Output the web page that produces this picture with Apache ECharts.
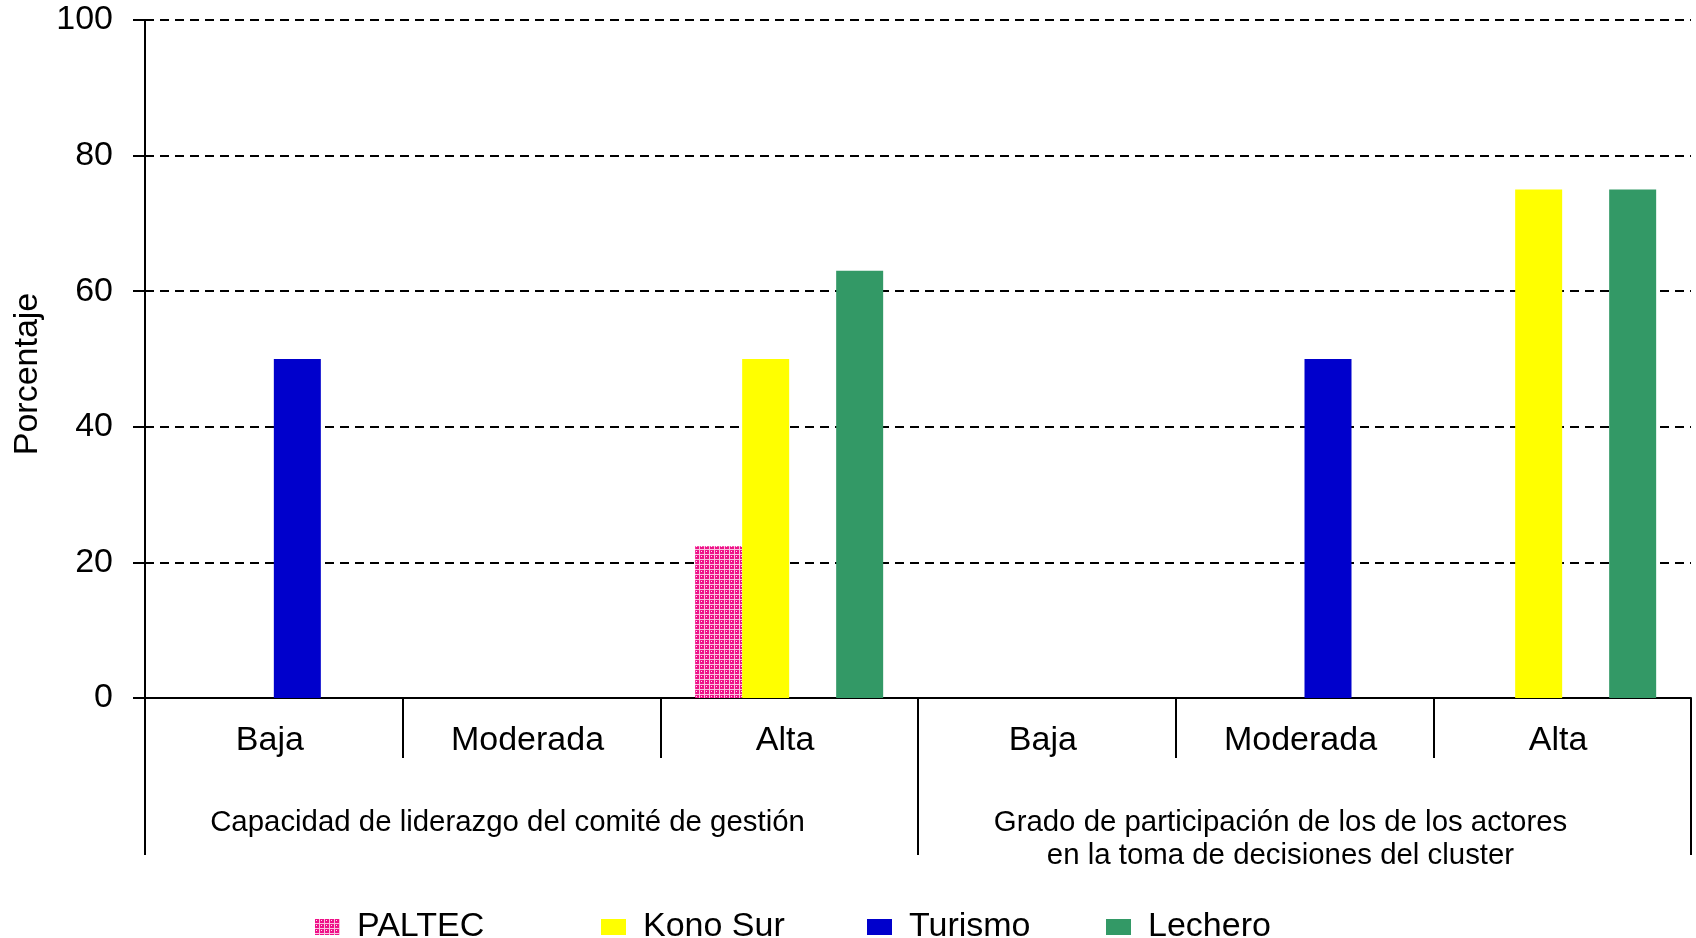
<!DOCTYPE html>
<html>
<head>
<meta charset="utf-8">
<script src="https://cdn.jsdelivr.net/npm/echarts@6/dist/echarts.min.js"></script>
<style>
html,body{margin:0;padding:0;background:#fff;}
#chart{width:1696px;height:938px;}
</style>
</head>
<body>
<div id="chart"></div>
<script>
const categories = ['Baja', 'Moderada', 'Alta', 'Baja', 'Moderada', 'Alta'];
const groups = ['Capacidad de liderazgo del comité de gestión', 'Grado de participación de los de los actores\nen la toma de decisiones del cluster'];
const seriesNames = ['PALTEC', 'Kono Sur', 'Turismo', 'Lechero'];
const paltec = [0, 0, 22.4, 0, 0, 0];
const konoSur = [0, 0, 50, 0, 0, 75];
const turismo = [50, 0, 0, 0, 50, 0];
const lechero = [0, 0, 63, 0, 0, 75];
const yTicks = [0, 20, 40, 60, 80, 100];

const FONT = 'Liberation Sans, Arial, sans-serif';

// pink dotted pattern for PALTEC
const pc = document.createElement('canvas');
pc.width = 5; pc.height = 5;
const px = pc.getContext('2d');
px.fillStyle = '#f9c2de';
px.fillRect(0, 0, 5, 5);
px.fillStyle = '#ee1289';
px.fillRect(0, 0, 4, 4);
px.fillStyle = '#fde6f1';
px.fillRect(1, 1, 1, 1);
const pinkPattern = { image: pc, repeat: 'repeat' };

const colors = [pinkPattern, '#ffff00', '#0000cc', '#339966'];
const values = [paltec, konoSur, turismo, lechero];

const chart = echarts.init(document.getElementById('chart'), null, { renderer: 'canvas' });

const legendLefts = [310, 596, 862, 1101];

const option = {
  animation: false,
  backgroundColor: '#ffffff',
  textStyle: { fontFamily: FONT, color: '#000' },
  grid: { left: 145, right: 5, top: 20, bottom: 240, containLabel: false },
  legend: seriesNames.map((n, i) => ({
    data: [n],
    left: legendLefts[i],
    top: 905,
    itemWidth: 25,
    itemHeight: 16,
    itemGap: 0,
    textStyle: { fontFamily: FONT, fontSize: 34, color: '#000', padding: [0, 0, 0, 12] },
    icon: 'rect',
    selectedMode: false
  })),
  xAxis: [
    {
      type: 'category',
      data: categories,
      position: 'bottom',
      boundaryGap: true,
      axisLine: { show: true, lineStyle: { color: '#000', width: 2 } },
      axisTick: { show: true, interval: 0, length: 60, lineStyle: { color: '#000', width: 2 } },
      axisLabel: { interval: 0, margin: 26, fontSize: 34, color: '#000', fontFamily: FONT, padding: [0, 8, 0, 0] },
      splitLine: { show: false }
    },
    {
      type: 'category',
      data: groups,
      position: 'bottom',
      boundaryGap: true,
      axisLine: { show: false },
      axisTick: { show: true, interval: 0, length: 157, lineStyle: { color: '#000', width: 2 } },
      axisLabel: { interval: 0, margin: 109, fontSize: 29.4, lineHeight: 32.5, color: '#000', fontFamily: FONT, padding: [0, 48, 0, 0] },
      splitLine: { show: false }
    }
  ],
  yAxis: {
    type: 'value',
    min: yTicks[0],
    max: yTicks[yTicks.length - 1],
    interval: 20,
    name: 'Porcentaje',
    nameLocation: 'middle',
    nameGap: 100,
    nameRotate: 90,
    nameTextStyle: { fontSize: 34, color: '#000', fontFamily: FONT, padding: [0, 30, 0, 0] },
    axisLine: { show: true, lineStyle: { color: '#000', width: 2 } },
    axisTick: { show: true, length: 12, lineStyle: { color: '#000', width: 2 } },
    axisLabel: { margin: 32, fontSize: 34, color: '#000', fontFamily: FONT },
    splitLine: { show: true, lineStyle: { color: '#000', width: 2, type: [9, 6] } }
  },
  series: seriesNames.map((n, i) => ({
    name: n,
    type: 'bar',
    xAxisIndex: 0,
    data: values[i],
    barWidth: 47,
    barGap: '0%',
    itemStyle: { color: colors[i] }
  }))
};

chart.setOption(option);
</script>
</body>
</html>
